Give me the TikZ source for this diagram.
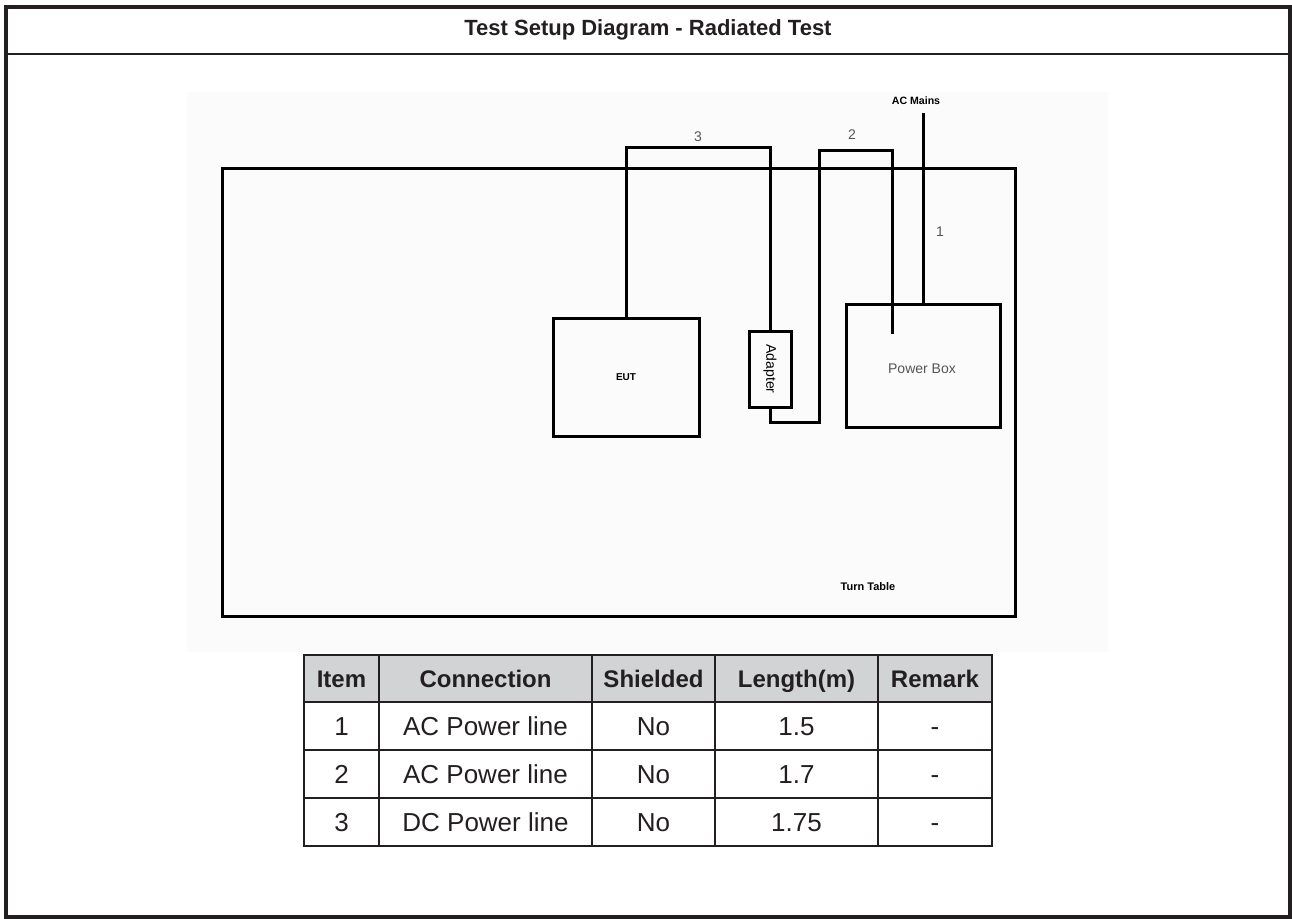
\documentclass[tikz,border=0pt]{standalone}
\usepackage{fontspec}
\setmainfont{Liberation Sans}
\usetikzlibrary{calc}
\definecolor{Ink}{HTML}{231F20}
\definecolor{Header}{HTML}{D1D3D4}
\definecolor{Muted}{HTML}{555555}
\definecolor{Paper}{HTML}{FBFBFB}

\begin{document}
\begin{tikzpicture}[x=0.5pt,y=-0.5pt,
    box/.style={draw,line width=1.5pt,inner sep=0pt},
    cable/.style={line width=1.5pt},
    tag/.style={color=Muted,font=\fontsize{7}{8}\selectfont},
    smallbold/.style={font=\bfseries\fontsize{5.3}{6}\selectfont},
    cell/.style={color=Ink,text height=9.3pt,text depth=0pt,inner sep=0pt,font=\fontsize{13}{15}\selectfont},
    headcell/.style={cell,text height=8.6pt,font=\bfseries\fontsize{12}{14}\selectfont}]
        \useasboundingbox (0,0) rectangle (1292,918);
        \fill[Paper] (187,92) rectangle (1108,652);
        \draw[Ink,line width=1.75pt] (6,7) rectangle (1290,917);
        \draw[Ink,line width=1.25pt] (6,54) -- (1290,54);
        \node[font=\bfseries\fontsize{11}{13}\selectfont,color=Ink] (title) at (648,30) {Test Setup Diagram - Radiated Test};

        \node[box,minimum width=396.5pt,minimum height=224pt] (tt) at (618.5,392) {};
        \node[box,minimum width=73pt,minimum height=59pt,font=\bfseries\fontsize{5}{6}\selectfont] (eut) at (626,377) {EUT};
        \node[box,minimum width=21pt,minimum height=38pt] (adp) at (770,369) {};
        \node[tag,rotate=-90,color=black] (adplabel) at (adp.center) {Adapter};
        \node[box,minimum width=77pt,minimum height=61.5pt] (pb) at (923,365.5) {};
        \node[tag] (pblabel) at (922,369) {Power Box};
        \coordinate (mains) at (923,113);
        \coordinate (pbin) at (892,334);

        \draw[cable] (eut.north) -- ++(0,-169) -| (adp.north);
        \draw[cable] (adp.south) -- ++(0,14) -| ++(49,-272) -| (pbin);
        \draw[cable] (mains) -- (pb.north);

        \node[tag] (n3) at (698,137) {3};
        \node[tag] (n2) at (852,135) {2};
        \node[tag] (n1) at (940,232) {1};
        \node[smallbold] (acmains) at (916,101) {AC Mains};
        \node[smallbold,font=\bfseries\fontsize{5.5}{6}\selectfont] (ttlabel) at (868,587) {Turn Table};

        \fill[Header] (304,655) rectangle (992,702);
        \foreach \y in {702,750,798}
          \draw[Ink,line width=1.3pt] (304,\y) -- (992,\y);
        \foreach \x in {379,592,715,878}
          \draw[Ink,line width=1.3pt] (\x,655) -- (\x,846);
        \draw[Ink,line width=1.4pt] (304,655) rectangle (992,846);
        \foreach \x/\t [count=\k] in {341.5/Item,485.5/Connection,653.5/Shielded,796.5/Length(m),935/Remark}
          \node[headcell] (h\k) at (\x,678.5) {\t};
        \foreach \y/\a/\b/\c/\d/\e [count=\r] in {726/1/AC Power line/No/1.5/-,774/2/AC Power line/No/1.7/-,822/3/DC Power line/No/1.75/-}
          {
          \node[cell] (r\r a) at (341.5,\y) {\a};
          \node[cell] (r\r b) at (485.5,\y) {\b};
          \node[cell] (r\r c) at (653.5,\y) {\c};
          \node[cell] (r\r d) at (796.5,\y) {\d};
          \node[cell] (r\r e) at (935,\y) {\e};
          }
      \end{tikzpicture}
\end{document}
